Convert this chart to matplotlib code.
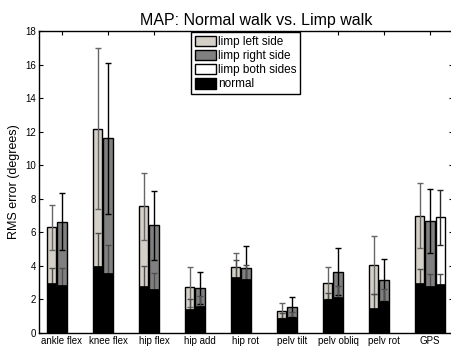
import numpy as np
import matplotlib
matplotlib.use("Agg")
import matplotlib.pyplot as plt
from matplotlib.patches import Patch

plt.rcParams['font.family'] = ['Liberation Sans', 'DejaVu Sans']

categories = ['ankle flex', 'knee flex', 'hip flex', 'hip add', 'hip rot',
              'pelv tilt', 'pelv obliq', 'pelv rot', 'GPS']

# limp walk RMS error (mean, std) per side; nan = not measured
limp_left = [6.29, 12.18, 7.54, 2.72, 3.91, 1.33, 2.96, 4.05, 7.00]
limp_left_sd = [1.36, 4.80, 2.00, 1.19, 0.87, 0.44, 0.95, 1.74, 1.96]
limp_right = [6.63, 11.60, 6.41, 2.66, 3.85, 1.53, 3.65, 3.15, 6.69]
limp_right_sd = [1.69, 4.50, 2.06, 0.95, 1.35, 0.60, 1.40, 1.24, 1.90]
limp_both = [np.nan] * 8 + [6.90]
limp_both_sd = [np.nan] * 8 + [1.63]

# normal walk RMS error for the same bars
normal_left = [3.00, 3.99, 2.80, 1.43, 3.35, 0.87, 2.00, 1.51, 2.96]
normal_left_sd = [0.85, 2.00, 1.20, 0.57, 0.98, 0.34, 0.40, 0.81, 0.83]
normal_right = [2.88, 3.57, 2.62, 1.63, 3.21, 0.93, 2.16, 1.90, 2.82]
normal_right_sd = [0.97, 1.70, 0.93, 0.57, 0.85, 0.30, 0.66, 0.70, 0.71]
normal_both = [np.nan] * 8 + [2.92]
normal_both_sd = [np.nan] * 8 + [0.61]

fig = plt.figure(figsize=(4.52, 3.51), dpi=100)
ax = fig.add_axes([39 / 452, 18 / 351, 414 / 452, 302 / 351])

x = np.arange(1, len(categories) + 1)
step = 0.222
w = 0.2

series = [
    (limp_left, limp_left_sd, normal_left, normal_left_sd, '#d4d0c8', '0.4'),
    (limp_right, limp_right_sd, normal_right, normal_right_sd, '#808080', 'k'),
    (limp_both, limp_both_sd, normal_both, normal_both_sd, 'white', '0.15'),
]

for i, (lv, ls, nv, ns, col, ecol) in enumerate(series):
    xs = x + (i - 1) * step
    lv = np.array(lv)
    ok = ~np.isnan(lv)
    ax.bar(xs[ok], lv[ok], width=w, color=col, edgecolor='k', linewidth=1.0, zorder=2)
    ax.errorbar(xs[ok], lv[ok], yerr=np.array(ls)[ok], fmt='none', ecolor=ecol,
                elinewidth=1.0, capsize=2.5, capthick=1.0, zorder=3)
    nv = np.array(nv)
    # normal error bar sits under the black bar so only the upper half shows
    ax.errorbar(xs[ok], nv[ok], yerr=np.array(ns)[ok], fmt='none', ecolor='0.3',
                elinewidth=1.0, capsize=2.5, capthick=1.0, zorder=3.5)
    ax.bar(xs[ok], nv[ok], width=w, color='k', edgecolor='k', linewidth=0.5, zorder=4)

ax.set_xlim(0.5, 9.5)
ax.set_ylim(0, 18)
ax.set_xticks(x)
ax.set_xticklabels(categories, fontsize=7)
ax.set_yticks(np.arange(0, 19, 2))
ax.tick_params(axis='y', labelsize=7)
ax.tick_params(direction='in', top=True, right=True, length=3, width=0.8, pad=2)
for s in ax.spines.values():
    s.set_linewidth(1.0)

ax.set_ylabel('RMS error (degrees)', fontsize=9, labelpad=4)
ax.set_title('MAP: Normal walk vs. Limp walk', fontsize=11.5, pad=4, x=0.525)

handles = [Patch(facecolor='#d4d0c8', edgecolor='k', label='limp left side'),
           Patch(facecolor='#808080', edgecolor='k', label='limp right side'),
           Patch(facecolor='white', edgecolor='k', label='limp both sides'),
           Patch(facecolor='k', edgecolor='k', label='normal')]
leg = ax.legend(handles=handles, loc='upper left', bbox_to_anchor=(0.365, 1.0),
                fontsize=8.5, fancybox=False, framealpha=1, edgecolor='k',
                handlelength=1.8, handleheight=1.0, handletextpad=0.2,
                labelspacing=0.15, borderpad=0.3, borderaxespad=0.1)
leg.get_frame().set_linewidth(1.0)
leg.set_zorder(10)

fig.savefig('out.png', dpi=100)
